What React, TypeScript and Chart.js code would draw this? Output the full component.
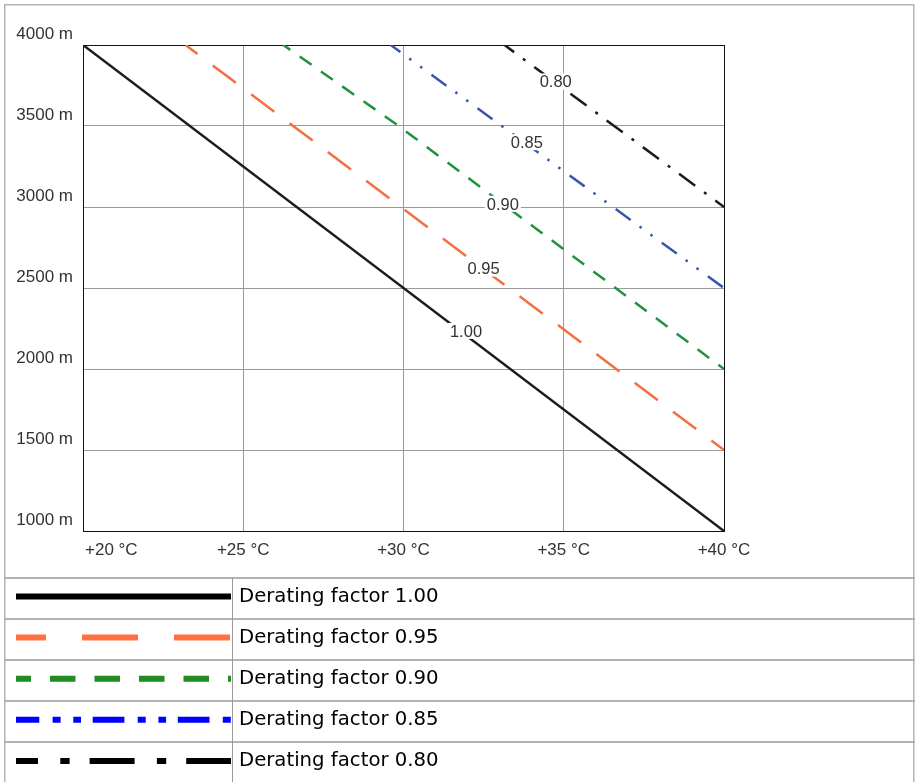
import React, { useEffect, useRef } from 'react';
import { Chart, registerables } from 'chart.js';

Chart.register(...registerables);

// ---- data ----
const TEMP_TICKS = [20, 25, 30, 35, 40];
const TEMP_TICK_LABELS = ['+20 °C', '+25 °C', '+30 °C', '+35 °C', '+40 °C'];
const ALT_MIN = 1000;
const ALT_MAX = 4000;
const ALT_STEP = 500;

const FACTORS = ['1.00', '0.95', '0.90', '0.85', '0.80'];
const LEGEND_LABELS = [
  'Derating factor 1.00',
  'Derating factor 0.95',
  'Derating factor 0.90',
  'Derating factor 0.85',
  'Derating factor 0.80',
];

const TEMP_100 = [20, 40];
const ALT_100 = [4000, 1000];
const TEMP_095 = [23.2, 40];
const ALT_095 = [4000, 1500];
const TEMP_090 = [26.25, 29.85, 40];
const ALT_090 = [4000, 3500, 2000];
const TEMP_085 = [29.6, 40];
const ALT_085 = [4000, 2500];
const TEMP_080 = [33.15, 40];
const ALT_080 = [4000, 3000];

// where each factor label sits on its curve (data coordinates)
const LABEL_TEMP = [31.95, 32.5, 33.1, 33.85, 34.75];
const LABEL_ALT = [2235, 2620, 3020, 3400, 3775];

// ---- styles ----
const SERIES = [
  { xs: TEMP_100, ys: ALT_100, color: '#1c1c1c', dash: [], dashOffset: 0, lColor: '#000000', lDash: [], lOffset: 0 },
  { xs: TEMP_095, ys: ALT_095, color: '#f36f40', dash: [29, 19], dashOffset: 14, lColor: '#ff7043', lDash: [56, 36], lOffset: 26 },
  { xs: TEMP_090, ys: ALT_090, color: '#21903f', dash: [14.5, 11.5], dashOffset: 6, lColor: '#228b22', lDash: [25.5, 19], lOffset: 10.5 },
  { xs: TEMP_085, ys: ALT_085, color: '#3a55ad', dash: [18.5, 11, 2.5, 11, 2.5, 11.5], dashOffset: 6.5, lColor: '#0000ff', lDash: [31.7, 13.3, 8, 12.7, 7.7, 11.7], lOffset: 8.4 },
  { xs: TEMP_080, ys: ALT_080, color: '#1c1c1c', dash: [20, 11, 3, 11], dashOffset: 8, lColor: '#000000', lDash: [45, 22.3, 9.3, 20], lOffset: 23 },
];

const W = 915;
const H = 782;
const AXIS_FONT = '"Liberation Sans", Arial, sans-serif';
const LEGEND_FONT = '"DejaVu Sans", sans-serif';
const FRAME = '#b3b3b3';

const decorPlugin = {
  id: 'decor',
  afterDraw(chart: any) {
    const ctx = chart.ctx as CanvasRenderingContext2D;
    const xs = chart.scales.x;
    const ys = chart.scales.y;
    const area = chart.chartArea;
    ctx.save();

    // curve labels with white background
    ctx.font = `16.5px ${AXIS_FONT}`;
    ctx.textAlign = 'center';
    ctx.textBaseline = 'alphabetic';
    FACTORS.forEach((t, i) => {
      const px = xs.getPixelForValue(LABEL_TEMP[i]);
      const py = ys.getPixelForValue(LABEL_ALT[i]);
      const w = ctx.measureText(t).width;
      ctx.fillStyle = '#ffffff';
      ctx.fillRect(px - w / 2 - 2, py - 8, w + 4, 16);
      ctx.fillStyle = '#333333';
      ctx.fillText(t, px, py + 5.9);
    });

    // x tick labels
    ctx.font = `17px ${AXIS_FONT}`;
    TEMP_TICKS.forEach((v, i) => {
      const px = xs.getPixelForValue(v);
      ctx.textAlign = i === 0 ? 'left' : 'center';
      ctx.fillStyle = '#333333';
      ctx.fillText(TEMP_TICK_LABELS[i], i === 0 ? px + 2 : px, area.bottom + 24);
    });

    // outer frame
    ctx.strokeStyle = FRAME;
    ctx.lineWidth = 1.5;
    ctx.strokeRect(4.75, 4.75, W - 5.5 - 0.5, H + 20);

    // legend table
    const tableTop = 578;
    const rowH = 41.1;
    const divX = 232;
    ctx.lineWidth = 2;
    ctx.strokeStyle = FRAME;
    for (let i = 0; i < 5; i++) {
      const y = Math.round(tableTop + i * rowH);
      ctx.beginPath();
      ctx.moveTo(4, y);
      ctx.lineTo(W, y);
      ctx.stroke();
    }
    ctx.lineWidth = 1;
    ctx.strokeStyle = '#9a9a9a';
    ctx.beginPath();
    ctx.moveTo(divX + 0.5, tableTop);
    ctx.lineTo(divX + 0.5, H);
    ctx.stroke();

    chart.data.datasets.forEach((ds: any, i: number) => {
      const s = SERIES[i];
      const top = tableTop + i * rowH;
      const cy = top + 18.5;
      ctx.save();
      ctx.strokeStyle = s.lColor;
      ctx.lineWidth = 6;
      ctx.lineCap = 'butt';
      ctx.setLineDash(s.lDash);
      ctx.lineDashOffset = s.lOffset;
      ctx.beginPath();
      ctx.moveTo(16, cy);
      ctx.lineTo(divX - 1, cy);
      ctx.stroke();
      ctx.restore();

      ctx.font = `19.7px ${LEGEND_FONT}`;
      ctx.fillStyle = '#000000';
      ctx.textAlign = 'left';
      ctx.textBaseline = 'alphabetic';
      ctx.fillText(ds.label, 239, top + 24);
    });

    ctx.restore();
  },
};

export default function App() {
  const ref = useRef<HTMLCanvasElement>(null);

  useEffect(() => {
    const canvas = ref.current;
    if (!canvas) return;
    const gridColor = (edgeValue: number) => (c: any) =>
      c.tick && c.tick.value === edgeValue ? '#111111' : '#9a9a9a';

    const chart = new Chart(canvas, {
      type: 'line',
      data: {
        datasets: SERIES.map((s, i) => ({
          label: LEGEND_LABELS[i],
          data: s.xs.map((x, k) => ({ x, y: s.ys[k] })),
          borderColor: s.color,
          backgroundColor: s.color,
          borderWidth: 2.5,
          borderDash: s.dash,
          borderDashOffset: s.dashOffset,
          borderCapStyle: 'butt',
          pointRadius: 0,
          fill: false,
          tension: 0,
        })),
      },
      options: {
        animation: false,
        responsive: false,
        devicePixelRatio: 1,
        events: [],
        layout: { padding: { left: 0, top: 45, right: W - 724, bottom: H - 531 - 40 } },
        plugins: { legend: { display: false }, tooltip: { enabled: false } },
        scales: {
          x: {
            type: 'linear',
            min: TEMP_TICKS[0],
            max: TEMP_TICKS[TEMP_TICKS.length - 1],
            ticks: { stepSize: 5, display: false },
            grid: { color: gridColor(40), lineWidth: 1, drawTicks: false },
            border: { display: true, color: '#111111', width: 1 },
            afterFit: (s: any) => { s.height = 40; },
          },
          y: {
            type: 'linear',
            min: ALT_MIN,
            max: ALT_MAX,
            ticks: {
              stepSize: ALT_STEP,
              color: '#333333',
              font: { family: AXIS_FONT, size: 17 },
              padding: 10,
              labelOffset: -11,
              callback: (v: any) => `${v} m`,
            },
            grid: { color: gridColor(4000), lineWidth: 1, drawTicks: false },
            border: { display: true, color: '#111111', width: 1 },
            afterFit: (s: any) => { s.width = 83; },
          },
        },
      },
      plugins: [decorPlugin],
    } as any);

    return () => chart.destroy();
  }, []);

  return (
    <div style={{ position: 'absolute', left: 0, top: 0, width: W, height: H, background: '#ffffff' }}>
      <canvas ref={ref} width={W} height={H} style={{ display: 'block', width: W, height: H }} />
    </div>
  );
}
